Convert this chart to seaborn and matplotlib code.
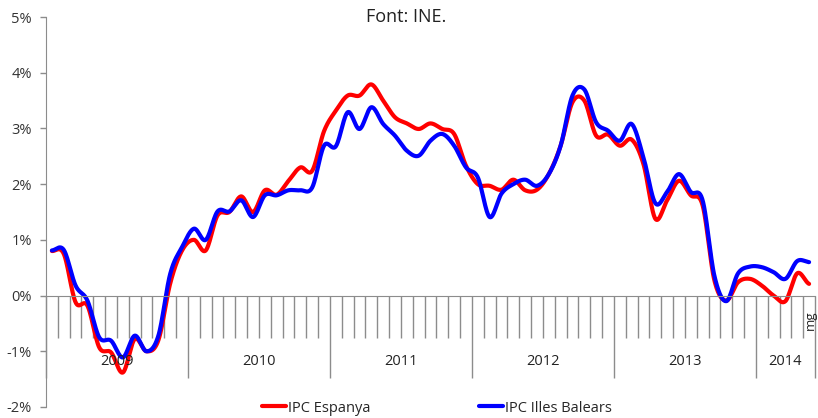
import numpy as np
import pandas as pd
import seaborn as sns
import matplotlib.pyplot as plt

# IPC interanual (%), gen 2009 - maig 2014
years = ['2009', '2010', '2011', '2012', '2013', '2014']
months_per_year = [12, 12, 12, 12, 12, 5]
last_label = 'mg'

espanya = [0.8, 0.75, -0.12, -0.18, -0.93, -1.02, -1.38, -0.78, -1.0, -0.8, 0.22, 0.81,
           1.0, 0.81, 1.44, 1.5, 1.78, 1.5, 1.89, 1.81, 2.06, 2.3, 2.24, 2.95,
           3.32, 3.59, 3.59, 3.79, 3.5, 3.2, 3.09, 2.99, 3.09, 2.99, 2.9, 2.33,
           2.0, 1.97, 1.9, 2.08, 1.89, 1.9, 2.18, 2.69, 3.47, 3.5, 2.87, 2.89,
           2.69, 2.8, 2.36, 1.38, 1.71, 2.06, 1.8, 1.62, 0.27, -0.09, 0.24, 0.3,
           0.18, 0.0, -0.1, 0.4, 0.21]

balears = [0.81, 0.82, 0.18, -0.09, -0.75, -0.81, -1.11, -0.72, -1.0, -0.72, 0.39, 0.87,
           1.2, 1.0, 1.51, 1.51, 1.71, 1.41, 1.8, 1.8, 1.89, 1.89, 1.94, 2.69,
           2.68, 3.29, 2.99, 3.38, 3.08, 2.87, 2.6, 2.51, 2.78, 2.9, 2.69, 2.3,
           2.12, 1.41, 1.83, 2.0, 2.08, 1.97, 2.18, 2.69, 3.59, 3.7, 3.11, 2.96,
           2.78, 3.08, 2.48, 1.66, 1.86, 2.18, 1.86, 1.71, 0.35, -0.1, 0.4, 0.52,
           0.51, 0.42, 0.3, 0.62, 0.6]

series = {'IPC Espanya': espanya, 'IPC Illes Balears': balears}
colors = {'IPC Espanya': '#ff0000', 'IPC Illes Balears': '#0000ff'}


def smooth(y, n=24):
    # corba suavitzada tipus Excel (Catmull-Rom)
    p = np.r_[y[0], y, y[-1]]
    xs, ys = [], []
    t = np.linspace(0, 1, n, endpoint=False)
    for i in range(len(y) - 1):
        p0, p1, p2, p3 = p[i], p[i + 1], p[i + 2], p[i + 3]
        ys.append(0.5 * (2 * p1 + (-p0 + p2) * t + (2 * p0 - 5 * p1 + 4 * p2 - p3) * t ** 2
                         + (-p0 + 3 * p1 - 3 * p2 + p3) * t ** 3))
        xs.append(i + t)
    xs.append([len(y) - 1])
    ys.append([y[-1]])
    return np.concatenate(xs), np.concatenate(ys)


rows = []
for name, vals in series.items():
    sx, sy = smooth(np.array(vals, dtype=float))
    rows.append(pd.DataFrame({'x': sx, 'valor': sy, 'serie': name}))
df = pd.concat(rows, ignore_index=True)

sns.set_style('white')
plt.rcParams['font.family'] = ['Open Sans', 'DejaVu Sans']

fig = plt.figure(figsize=(8.18, 4.18), dpi=100)
ax = fig.add_axes([46 / 818, 1 - 407 / 418, (815 - 46) / 818, (407 - 17) / 418])

sns.lineplot(data=df, x='x', y='valor', hue='serie', palette=colors, sort=False,
             linewidth=3.0, ax=ax)

n = len(espanya)
ax.set_xlim(-0.5, n - 0.5)
ax.set_ylim(-2, 5)

grey = '#8c8c8c'
for s in ['top', 'right']:
    ax.spines[s].set_visible(False)
ax.spines['bottom'].set_position(('data', 0))
ax.spines['bottom'].set_color(grey)
ax.spines['left'].set_color(grey)

bounds = np.r_[0, np.cumsum(months_per_year)] - 0.5
ax.set_xticks(bounds)
ax.set_xticks(np.arange(n + 1) - 0.5, minor=True)
ax.set_xticklabels([])
ax.tick_params(axis='x', which='major', bottom=True, direction='out', length=59, width=1,
               color=grey)
ax.tick_params(axis='x', which='minor', bottom=True, direction='out', length=30, width=1,
               color=grey)

for i, yr in enumerate(years):
    ax.text((bounds[i] + bounds[i + 1]) / 2, -1.18, yr, ha='center', va='center',
            fontsize=10.5, color='#222222')
ax.text(n - 1 + 0.15, -0.45, last_label, rotation=90, ha='center', va='center',
        fontsize=9.5, color='#222222')

ax.set_yticks(range(-2, 6))
ax.set_yticklabels([f'{v}%' for v in range(-2, 6)])
ax.tick_params(axis='y', direction='out', length=4, width=1, color=grey, pad=6,
               labelsize=10.5, labelcolor='#333333', left=True)
ax.set_xlabel('')
ax.set_ylabel('')

handles, labels = ax.get_legend_handles_labels()
ax.get_legend().remove()
fig.legend(handles, labels, loc='center', bbox_to_anchor=(437 / 818, 1 - 408 / 418), ncol=2,
           frameon=False, fontsize=10.5, handlelength=1.65, handletextpad=0.15,
           columnspacing=7.4)

fig.text(406 / 818, 1 - 17 / 418, 'Font: INE.', ha='center', va='center', fontsize=13,
         color='#222222')

fig.savefig('out.png', dpi=100)
